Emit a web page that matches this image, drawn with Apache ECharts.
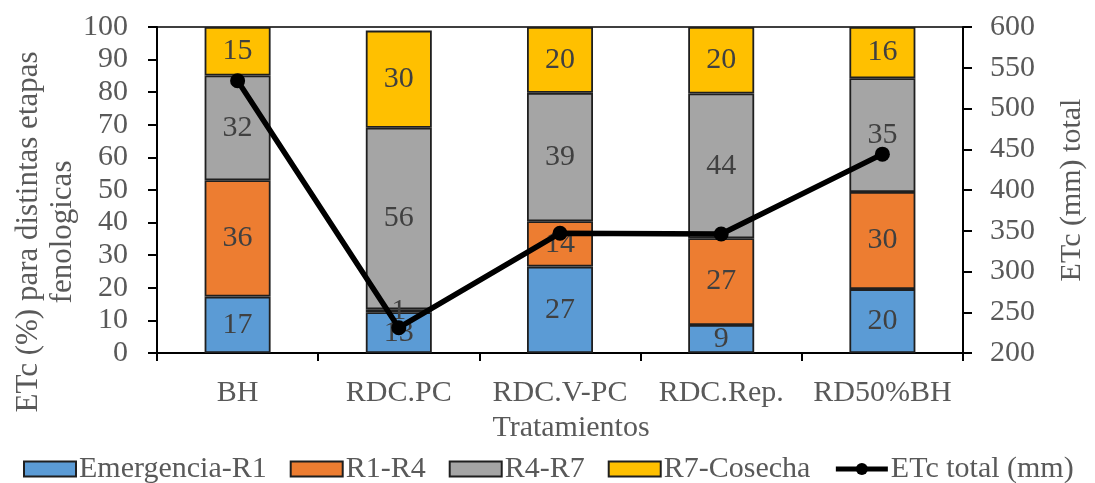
<!DOCTYPE html>
<html>
<head>
<meta charset="utf-8">
<script src="https://cdn.jsdelivr.net/npm/echarts@6/dist/echarts.min.js"></script>
<style>
  html, body { margin: 0; padding: 0; background: #fff; }
  #chart { width: 1095px; height: 483px; }
</style>
</head>
<body>
<div id="chart"></div>
<script>
// Treatments on the category axis
const categories = ['BH', 'RDC.PC', 'RDC.V-PC', 'RDC.Rep.', 'RD50%BH'];

// Share of ETc (%) per phenological stage
const emergenciaR1 = [17.3, 12.5, 26.5, 8.6, 19.6];
const r1R4 = [35.7, 0.9, 13.9, 26.6, 29.8];
const r4R7 = [32.1, 55.7, 39.4, 44.4, 34.9];
const r7Cosecha = [14.9, 29.8, 20.2, 20.4, 15.7];

// Total ETc (mm), right axis
const etcTotal = [534, 231, 347, 346, 444];

const FONT = 'Liberation Serif, Times New Roman, serif';
const TEXT_GRAY = '#595959';
const LABEL_DARK = '#404040';

function stackBar(name, data, color) {
  return {
    name: name,
    type: 'bar',
    stack: 'etapas',
    yAxisIndex: 0,
    barWidth: 66,
    data: data,
    itemStyle: { color: color, borderColor: '#1f1f1f', borderWidth: 1.8 },
    label: {
      show: true,
      position: 'inside',
      color: LABEL_DARK,
      fontFamily: FONT,
      fontSize: 30,
      formatter: p => Math.round(p.value)
    },
    emphasis: { disabled: true }
  };
}

const chart = echarts.init(document.getElementById('chart'), null, { renderer: 'canvas' });

chart.setOption({
  animation: false,
  textStyle: { fontFamily: FONT },
  grid: {
    left: 157, right: 124, top: 27, bottom: 130,
    show: true, borderColor: '#000', borderWidth: 1.5, backgroundColor: 'transparent'
  },
  legend: {
    left: 18,
    top: 449,
    itemWidth: 52,
    itemHeight: 15,
    itemGap: 23,
    textStyle: { color: TEXT_GRAY, fontFamily: FONT, fontSize: 30, padding: [0, 0, 0, -2] },
    data: [
      { name: 'Emergencia-R1', icon: 'rect' },
      { name: 'R1-R4', icon: 'rect' },
      { name: 'R4-R7', icon: 'rect' },
      { name: 'R7-Cosecha', icon: 'rect' },
      { name: 'ETc total (mm)', lineStyle: { width: 5, color: '#000' } }
    ]
  },
  xAxis: {
    type: 'category',
    data: categories,
    name: 'Tratamientos',
    nameLocation: 'middle',
    nameGap: 52,
    nameTextStyle: { color: TEXT_GRAY, fontFamily: FONT, fontSize: 30, padding: [0, 0, 0, 22] },
    axisLine: { lineStyle: { color: '#000', width: 2 } },
    axisTick: { show: true, length: 8, lineStyle: { color: '#000', width: 2 } },
    axisLabel: { color: TEXT_GRAY, fontFamily: FONT, fontSize: 30, margin: 25, interval: 0 }
  },
  yAxis: [
    {
      type: 'value',
      min: 0, max: 100, interval: 10,
      position: 'left',
      axisLine: { show: true, lineStyle: { color: '#000', width: 2 } },
      axisTick: { show: true, length: 9, lineStyle: { color: '#000', width: 2 } },
      axisLabel: { color: TEXT_GRAY, fontFamily: FONT, fontSize: 30, margin: 29 },
      splitLine: { show: false }
    },
    {
      type: 'value',
      min: 200, max: 600, interval: 50,
      position: 'right',
      name: 'ETc (mm) total',
      nameLocation: 'middle',
      nameGap: 94,
      nameTextStyle: { color: TEXT_GRAY, fontFamily: FONT, fontSize: 30 },
      axisLine: { show: true, lineStyle: { color: '#000', width: 2 } },
      axisTick: { show: true, length: 9, lineStyle: { color: '#000', width: 2 } },
      axisLabel: { color: TEXT_GRAY, fontFamily: FONT, fontSize: 30, margin: 27 },
      splitLine: { show: false }
    }
  ],
  graphic: [
    {
      type: 'text',
      x: 46,
      y: 232,
      rotation: Math.PI / 2,
      style: {
        text: 'ETc (%) para distintas etapas\nfenologicas',
        fill: TEXT_GRAY,
        font: '31px ' + FONT,
        align: 'center',
        verticalAlign: 'middle',
        lineHeight: 34
      }
    }
  ],
  series: [
    stackBar('Emergencia-R1', emergenciaR1, '#5B9BD5'),
    stackBar('R1-R4', r1R4, '#ED7D31'),
    stackBar('R4-R7', r4R7, '#A5A5A5'),
    stackBar('R7-Cosecha', r7Cosecha, '#FFC000'),
    {
      name: 'ETc total (mm)',
      type: 'line',
      yAxisIndex: 1,
      data: etcTotal,
      z: 5,
      symbol: 'circle',
      symbolSize: 15,
      lineStyle: { color: '#000', width: 5.5 },
      itemStyle: { color: '#000' },
      emphasis: { disabled: true }
    }
  ]
});
</script>
</body>
</html>
